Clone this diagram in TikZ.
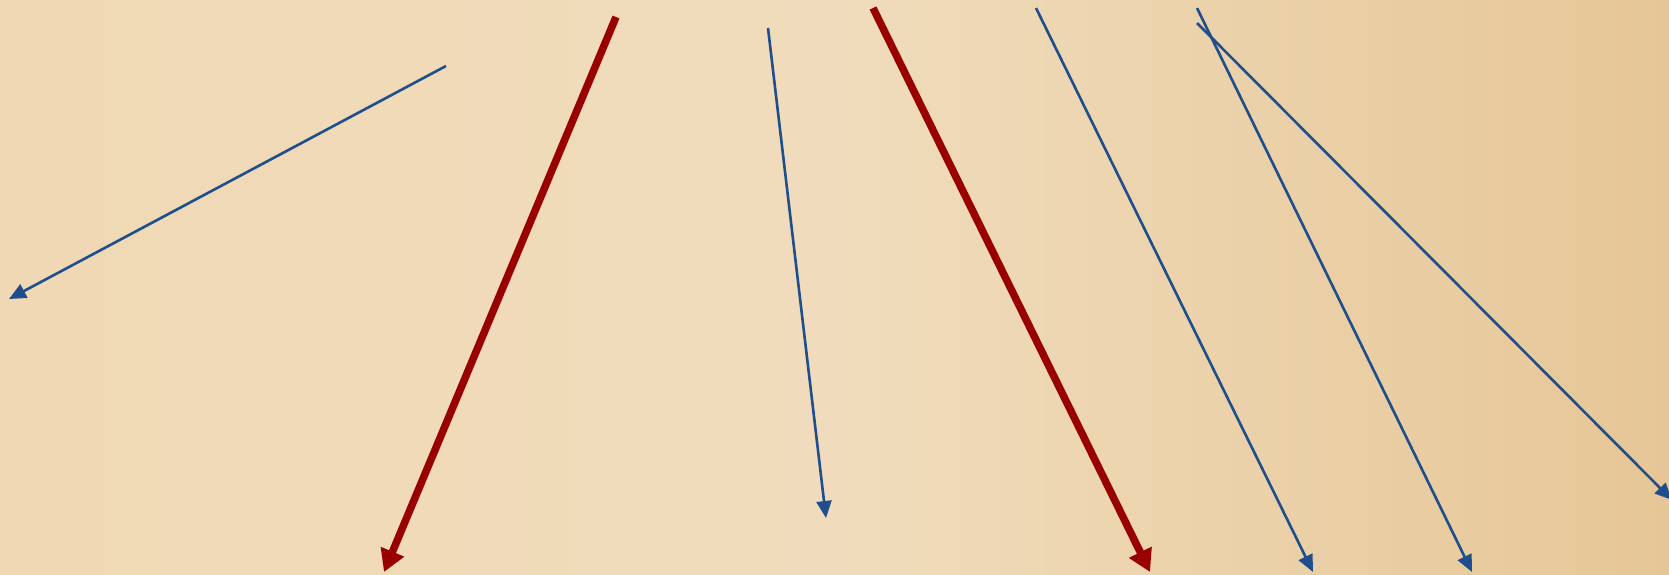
\documentclass[tikz,border=0pt]{standalone}
\usetikzlibrary{arrows.meta}
\definecolor{parchment}{RGB}{240,216,180}
\definecolor{parchmentlight}{RGB}{240,220,188}
\definecolor{parchmentdark}{RGB}{230,198,150}
\definecolor{inkblue}{RGB}{31,78,140}
\definecolor{inkred}{RGB}{153,0,0}
\tikzset{
  thin ray/.style={draw=inkblue, line width=2.6pt,
    -{Triangle[length=17pt, width=15pt]}},
  thick ray/.style={draw=inkred, line width=7.5pt,
    -{Triangle[length=22pt, width=24pt]}},
}
\begin{document}
\begin{tikzpicture}[x=1pt, y=-1pt]
  % sheet
  \useasboundingbox (0,0) rectangle (1669,574);
  \shade[left color=parchment, right color=parchmentdark,
    middle color=parchmentlight] (0,0) rectangle (1669,574);
  % start and end points
  \coordinate (s1) at (446,66);   \coordinate (e1) at (9,299);
  \coordinate (s2) at (616,17);   \coordinate (e2) at (384,572);
  \coordinate (s3) at (768,28);   \coordinate (e3) at (826,518);
  \coordinate (s4) at (873,8);    \coordinate (e4) at (1150,572);
  \coordinate (s5) at (1036,8);   \coordinate (e5) at (1313,572);
  \coordinate (s6) at (1197,8);   \coordinate (e6) at (1472,572);
  \coordinate (s7) at (1197,23);  \coordinate (e7) at (1672,500);
  % rays
  \draw[thin ray] (s1) -- (e1);
  \draw[thick ray] (s2) -- (e2);
  \draw[thin ray] (s3) -- (e3);
  \draw[thick ray] (s4) -- (e4);
  \draw[thin ray] (s5) -- (e5);
  \draw[thin ray] (s6) -- (e6);
  \draw[thin ray] (s7) -- (e7);
\end{tikzpicture}
\end{document}
